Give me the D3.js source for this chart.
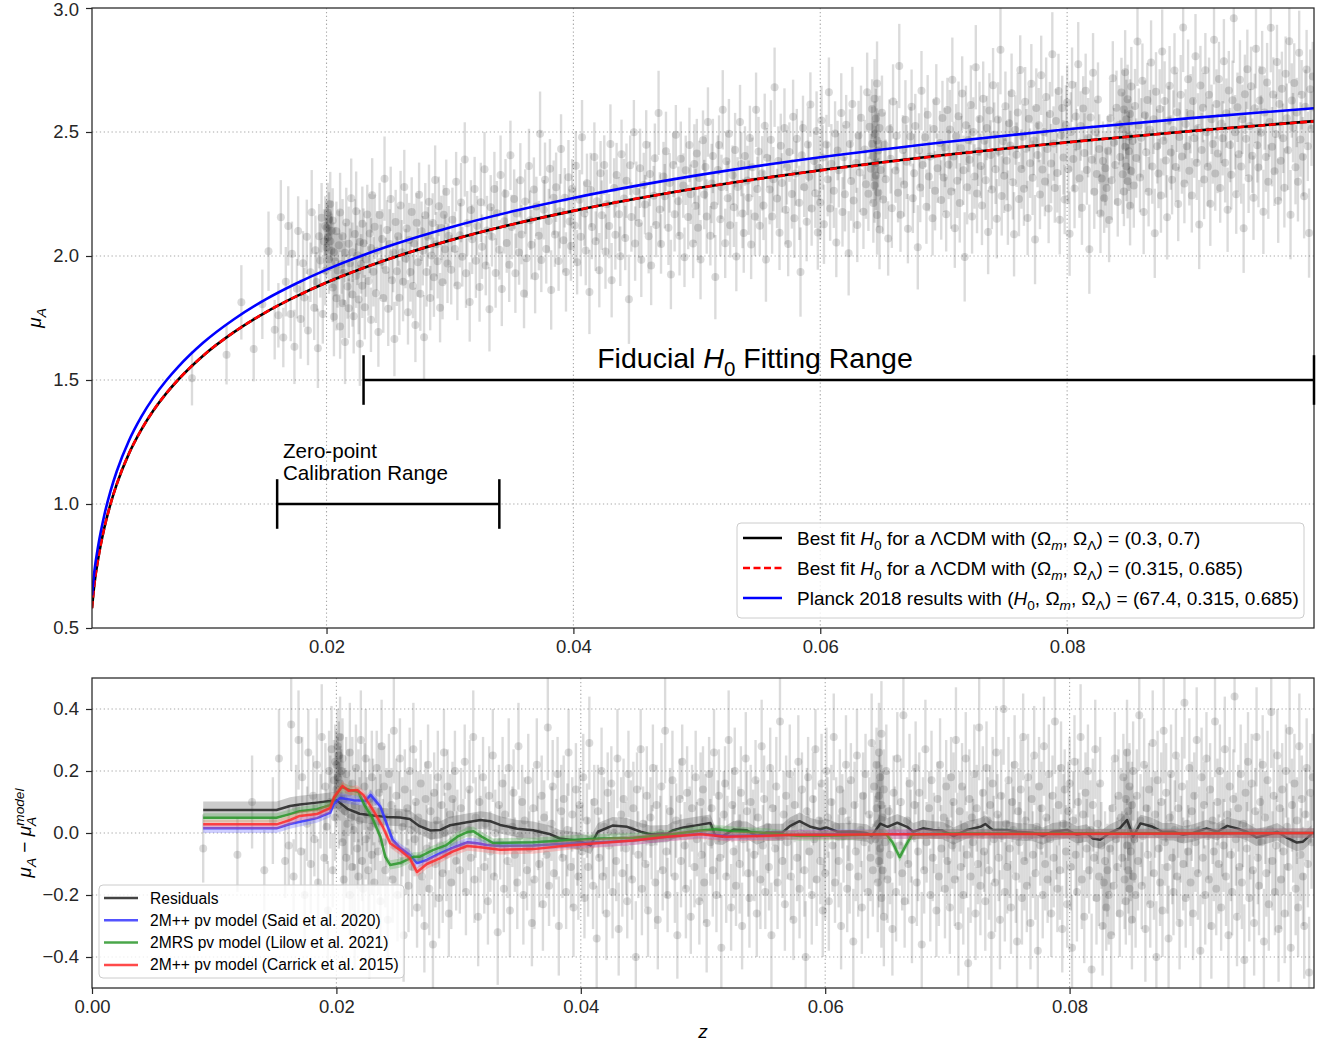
<!DOCTYPE html>
<html><head><meta charset="utf-8">
<script src="https://cdn.jsdelivr.net/npm/d3@7"></script>
<style>body{margin:0;background:#fff}svg text{font-family:"Liberation Sans",Arial,Helvetica,sans-serif}</style>
</head><body><svg id="c" width="1326" height="1044"></svg>
<script>
// ---------------- DATA ----------------
// Model curves (top panel): redshift knots and mu_A values
const curveZ = [0.001,0.0012,0.0015,0.002,0.0025,0.003,0.004,0.005,0.006,0.007,0.008,0.01,0.0125,0.015,0.0175,0.02,0.025,0.03,0.035,0.04,0.05,0.06,0.07,0.08,0.09,0.1];
const muBest300 = [0.580,0.680,0.779,0.904,1.000,1.079,1.204,1.300,1.379,1.445,1.502,1.598,1.693,1.771,1.836,1.893,1.987,2.063,2.127,2.182,2.273,2.346,2.407,2.459,2.504,2.544];
const muBest315 = [0.580,0.680,0.779,0.904,1.000,1.079,1.204,1.300,1.379,1.445,1.502,1.598,1.693,1.771,1.836,1.893,1.987,2.063,2.127,2.182,2.273,2.345,2.406,2.458,2.503,2.543];
const muPlanck = [0.632,0.732,0.831,0.956,1.052,1.131,1.256,1.352,1.431,1.497,1.554,1.650,1.745,1.823,1.888,1.945,2.039,2.115,2.179,2.234,2.325,2.398,2.459,2.511,2.556,2.596];

// Galaxies: [z x 1e4, residual mu_A - mu_model x 100, error x 100]
const galaxies = [
[91,-5,11],[119,-7,12],[131,10,15],[141,-12,13],[148,4,14],[153,24,16],[158,-9,12],
[161,-4,13],[163,35,15],[165,-14,12],[167,8,14],[169,30,16],[171,-6,11],[172,18,13],[174,-20,15],[176,3,12],[177,26,14],[179,-10,16],[181,12,13],[182,-2,12],[184,22,15],[185,-16,14],[187,7,12],[188,31,17],[190,-8,13],[191,15,14],[192,2,12],[193,-25,16],[194,20,13],[195,10,15],[196,27,14],[197,-12,12],[198,17,13],[199,5,14],[199,23,12],
[200,14,12],[200,22,11],[201,18,13],[201,28,12],[202,9,14],[202,25,11],[203,16,12],[203,31,13],[204,12,15],[204,20,12],[205,-3,14],[205,24,13],[206,11,12],[206,-15,16],[207,7,14],[208,19,12],[208,-8,13],[209,3,15],[210,13,14],[211,-20,13],[211,26,16],[212,5,12],[213,-11,14],[213,16,15],[214,1,13],[215,-27,17],[215,9,12],[216,21,14],[217,-5,13],[218,12,15],[218,-14,12],[219,4,14],[220,30,16],[221,-9,13],[221,8,12],[222,-18,15],[223,15,14],[224,-2,13],[224,24,16],[225,6,12],[226,-12,14],[227,11,13],[227,-30,17],[228,2,12],[229,18,15],[229,-7,13],
[230,10,14],[231,-16,13],[232,3,15],[233,21,12],[234,-6,14],[235,13,16],[236,-22,13],[236,7,12],[237,28,15],[238,-3,14],[239,15,13],[240,-12,12],[241,5,16],[242,-28,14],[243,19,13],[244,0,15],[245,9,12],[246,-15,14],[247,33,17],[248,-4,13],[249,12,12],[250,-20,15],[251,6,14],[252,24,13],[253,-9,12],[254,2,16],[255,-33,15],[256,14,13],[257,-6,14],[258,8,12],[259,-17,15],[260,20,14],[261,1,13],[262,-11,16],[263,27,15],[264,-2,12],[265,10,14],[266,-24,13],[267,5,15],[268,-8,12],[269,16,14],[270,-14,13],[271,3,16],[272,-30,15],[273,11,12],[274,-5,14],[275,22,13],[276,-18,15],[277,7,12],[278,-1,14],[279,-36,17],[280,13,13],[281,-10,14],[282,4,12],[283,18,15],[284,-21,13],[285,-4,14],[286,9,12],[287,-13,16],[288,26,14],[289,0,13],[290,-7,15],[291,15,12],[292,-26,14],[293,6,13],[294,-16,15],[295,11,12],[296,-3,14],[297,20,13],[298,-9,16],[299,2,12],
[301,-12,14],[302,8,13],[304,-4,15],[305,23,12],[306,-19,14],[308,1,13],[309,14,16],[310,-8,12],[312,31,15],[313,-15,14],[314,5,13],[316,-27,16],[317,10,12],[318,-2,14],[320,18,13],[321,-11,15],[322,3,12],[324,-22,14],[325,12,16],[326,-6,13],[328,25,15],[329,-14,12],[330,0,14],[332,-32,17],[333,9,13],[334,-3,12],[336,16,15],[337,-18,14],[338,6,13],[340,-9,12],[341,21,16],[342,-25,15],[344,2,13],[345,13,14],[346,-7,12],[348,-16,15],[349,28,14],[350,-1,13],[352,10,12],[353,-20,16],[354,4,14],[356,-12,13],[357,17,15],[358,-5,12],[360,-29,14],[361,8,13],[362,-15,16],[364,22,15],[365,0,12],[366,-10,14],[368,12,13],[369,-23,15],[370,5,12],[372,-7,14],[373,34,17],[374,-17,13],[376,3,12],[377,15,15],[378,-13,14],[380,-2,13],[381,19,12],[382,-30,16],[384,7,15],[385,-8,13],[386,11,14],[388,-19,12],[389,1,15],[390,26,14],[392,-11,13],[393,6,12],[394,-24,16],[396,14,15],[397,-4,13],[398,-14,14],[399,9,12],
[401,-6,15],[402,18,14],[403,-21,13],[405,4,12],[406,-11,16],[407,29,15],[409,-2,13],[410,-17,14],[411,10,12],[413,-34,17],[414,7,15],[415,-8,13],[417,20,14],[418,-14,12],[419,2,16],[421,-26,15],[422,13,13],[423,-4,14],[425,16,12],[426,-19,15],[427,0,14],[429,-9,13],[430,24,16],[431,-31,15],[433,6,12],[434,-13,14],[435,11,13],[437,-5,15],[438,-22,12],[439,19,14],[441,1,16],[442,-15,13],[443,8,15],[445,-40,18],[446,14,12],[447,-7,14],[449,27,13],[450,-18,15],[451,3,12],[453,-10,14],[454,12,16],[455,-25,15],[457,5,13],[458,-3,12],[459,21,14],[461,-16,15],[462,9,13],[463,-28,16],[465,0,12],[466,15,14],[467,-12,13],[469,33,17],[470,-6,15],[471,-20,12],[473,7,14],[474,-1,13],[475,17,16],[477,-14,15],[478,4,12],[479,-33,14],[481,11,13],[482,-9,15],[483,23,12],[485,-4,14],[486,-18,16],[487,13,15],[489,2,13],[490,-27,12],[491,8,14],[493,-11,13],[494,18,15],[495,-2,12],[497,-22,14],[498,10,16],[499,-7,15],
[500,14,14],[501,-16,13],[502,4,15],[503,-29,16],[505,19,12],[506,-3,14],[507,8,13],[508,-12,15],[509,26,14],[511,-20,12],[512,1,16],[513,12,15],[514,-8,13],[515,-37,17],[517,6,14],[518,16,12],[519,-14,15],[520,-1,13],[521,30,16],[523,-24,14],[524,9,12],[525,-6,15],[526,20,14],[527,-17,13],[529,3,12],[530,-10,16],[531,13,15],[532,-30,14],[533,-2,12],[535,24,15],[536,7,13],[537,-13,14],[538,-21,16],[539,10,12],[541,0,14],[542,-7,15],[543,17,13],[544,-26,14],[545,5,12],[547,-15,16],[548,28,15],[549,-4,13],[550,11,14],[551,-19,12],[553,2,15],[554,-11,14],[555,21,13],[556,-33,17],[557,8,12],[559,-5,14],[560,15,16],[561,-16,15],[562,-1,13],[563,36,16],[565,-9,12],[566,6,14],[567,-23,15],[568,12,13],[569,-3,12],[571,19,16],[572,-14,14],[573,3,15],[574,-28,13],[575,9,12],[577,-8,14],[578,23,15],[579,-18,16],[580,0,13],[581,14,12],[583,-12,15],[584,-40,18],[585,7,14],[586,18,13],[587,-6,12],[589,-20,16],[590,11,15],[591,-2,14],[592,27,13],[593,-15,15],[595,4,12],[596,-9,14],[597,16,16],[598,-25,15],[599,1,13],
[600,-13,15],[601,20,14],[602,5,13],[603,-22,16],[605,10,12],[606,-4,15],[607,31,14],[608,-16,13],[609,2,16],[611,-9,15],[612,14,13],[613,-30,14],[614,7,12],[615,-1,15],[617,22,16],[618,-18,14],[619,4,13],[620,-11,15],[621,17,12],[623,-35,17],[624,9,14],[625,-6,16],[626,25,15],[627,-14,13],[629,1,12],[630,-24,15],[631,12,14],[632,-3,16],[633,19,13],[635,-19,15],[636,6,12],[637,-8,14],[638,29,16],[639,-12,15],[640,15,13],[641,-2,14],[642,8,15],[642,22,12],[643,-16,16],[643,3,14],[644,12,13],[644,-9,15],[644,26,16],[645,-5,14],[645,18,12],[645,0,15],[646,-21,16],[646,9,13],[646,32,17],[647,-12,14],[647,5,15],[648,14,13],[648,-27,16],[649,-3,12],[650,20,15],[651,-15,14],[652,7,13],[653,-7,16],[655,-31,15],[656,13,12],[657,1,14],[658,-19,16],[659,24,15],[661,-4,13],[662,10,14],[663,-13,12],[664,38,17],[665,-22,15],[667,4,14],[668,-10,13],[669,16,16],[670,-1,15],[671,-28,14],[673,9,12],[674,21,15],[675,-16,14],[676,-6,16],[677,13,13],[679,-36,17],[680,3,15],[681,-12,14],[682,27,16],[683,-3,13],[685,8,12],[686,-20,15],[687,17,16],[688,-8,14],[689,0,13],[691,-25,15],[692,11,12],[693,-14,16],[694,22,15],[695,-5,14],[697,5,13],[698,-18,16],[699,15,15],
[700,-9,14],[701,3,16],[702,-24,15],[703,18,13],[704,-4,14],[705,10,16],[706,-15,15],[707,30,17],[708,-1,14],[709,-30,16],[710,7,13],[711,-11,15],[712,15,14],[713,-20,16],[714,2,13],[715,24,15],[716,-7,14],[717,-42,18],[718,11,16],[719,-14,15],[720,5,13],[721,-3,14],[722,19,16],[723,-26,15],[724,8,14],[725,-10,13],[726,34,17],[727,-17,16],[728,0,14],[729,13,15],[730,-6,13],[731,-22,16],[732,21,15],[733,4,14],[734,-12,16],[735,9,13],[736,-33,17],[737,16,15],[738,-2,14],[739,-16,16],[740,26,15],[741,6,13],[742,-8,14],[743,-28,16],[744,12,15],[745,-1,14],[746,40,18],[747,-19,16],[748,3,13],[749,-11,15],[750,17,14],[751,-5,16],[752,-24,15],[753,10,13],[754,1,14],[755,22,16],[756,-14,15],[757,-35,17],[758,7,14],[759,-3,13],[760,14,16],[761,-21,15],[762,31,14],[763,-9,16],[764,4,13],[765,-17,15],[766,18,14],[767,-1,16],[768,-29,15],[769,11,13],[770,-7,14],[771,25,16],[772,-13,15],[773,2,14],[774,-38,18],[775,15,16],[776,-4,13],[777,8,15],[778,-20,14],[779,28,16],[780,-10,15],[781,5,13],[782,-15,14],[783,19,16],[784,-2,15],[785,-26,14],[786,12,13],[787,-8,16],[788,36,17],[789,0,15],[790,-18,14],[791,9,13],[792,-12,16],[793,21,15],[794,-31,14],[795,3,16],[796,14,13],[797,-6,15],[798,-23,14],[799,7,16],
[800,16,15],[801,-11,14],[802,-37,17],[803,4,16],[804,23,15],[805,-7,13],[806,-19,16],[807,10,14],[808,-2,15],[809,31,17],[810,-15,16],[811,6,14],[812,-27,15],[813,13,13],[814,-5,16],[815,20,15],[816,-12,14],[817,1,16],[818,-44,18],[819,9,15],[820,-8,14],[821,27,16],[822,-21,15],[823,3,13],[824,-14,16],[825,16,15],[826,-4,14],[827,-30,16],[828,-16,15],[829,-9,16],[830,-24,14],[831,-12,15],[832,-20,16],[833,-5,14],[834,-33,17],[835,8,15],[836,-17,16],[837,24,15],[838,-2,14],[839,-11,16],[840,12,15],[841,-26,14],[842,5,16],[843,-8,15],[844,18,14],[845,-15,16],[845,3,15],[846,-22,14],[846,11,16],[847,-4,15],[847,26,17],[848,-12,14],[848,7,16],[849,-18,15],[849,15,14],[850,-6,16],[850,0,15],[851,-28,16],[851,9,14],[852,-14,15],[852,20,16],[853,-2,14],[854,-20,17],[855,12,15],[856,-9,16],[857,38,18],[858,4,15],[859,-17,14],[860,-1,16],[861,22,15],[862,-31,17],[863,8,14],[864,-7,16],[865,14,15],[866,-23,14],[867,2,16],[868,29,17],[869,-13,15],[870,6,14],[871,-40,18],[872,17,16],[873,-5,15],[874,-16,14],[875,10,16],[876,-25,15],[877,33,17],[878,-3,14],[879,13,16],[880,-11,15],[881,-34,17],[882,5,14],[883,19,16],[884,-8,15],[885,-19,14],[886,1,16],[887,25,15],[888,-14,14],[889,8,16],[890,-29,15],[891,-2,14],[892,15,16],[893,-10,15],[894,42,18],[895,-21,16],[896,3,14],[897,-6,15],[898,21,16],[899,-16,14],
[900,7,16],[901,-26,15],[902,12,14],[903,-3,16],[904,30,17],[905,-13,15],[906,1,14],[907,-38,18],[908,18,16],[909,-8,15],[910,9,14],[911,-20,16],[912,24,15],[913,-1,14],[914,-15,16],[915,14,15],[916,-30,17],[917,4,14],[918,-6,16],[919,36,18],[920,-18,15],[921,10,14],[922,-10,16],[923,20,15],[924,-24,14],[925,2,16],[926,-4,15],[927,27,17],[928,-14,16],[929,6,14],[930,-33,17],[931,15,16],[932,-7,15],[933,-19,14],[934,11,16],[935,44,18],[936,-2,15],[937,-27,16],[938,8,14],[939,-11,15],[940,19,16],[941,-16,15],[942,3,14],[943,-41,18],[944,13,16],[945,-5,15],[946,23,16],[947,-21,14],[948,0,15],[949,16,16],[950,-12,15],[951,-29,17],[952,7,14],[953,31,16],[954,-8,15],[955,-17,16],[956,10,14],[957,-3,15],[958,22,16],[959,-35,17],[960,5,15],[961,-13,14],[962,17,16],[963,-23,15],[964,1,14],[965,39,18],[966,-9,16],[967,12,15],[968,-19,14],[969,-4,16],[970,25,15],[971,-31,17],[972,8,14],[973,-15,16],[974,14,15],[975,-6,14],[976,-26,16],[977,20,15],[978,2,14],[979,-11,16],[980,33,17],[981,-37,18],[982,9,15],[983,-2,14],[984,16,16],[985,-18,15],[986,4,14],[987,-24,16],[988,28,17],[989,-7,15],[990,11,14],[991,-14,16],[992,-30,17],[993,6,15],[994,21,16],[995,-10,14],[996,-45,18],[997,13,16],[998,-3,15],[999,18,14]
];

// Running residual line (black) and pv-model predictions (bottom panel)
const residZ = [0.0091,0.0151,0.0162,0.0170,0.0184,0.0195,0.0200,0.0209,0.0219,0.0233,0.0241,0.0252,0.0260,0.0268,0.0277,0.0285,0.0293,0.0307,0.0318,0.0326,0.0334,0.0348,0.0361,0.0375,0.0383,0.0399,0.0408,0.0414,0.0426,0.0438,0.0449,0.0457,0.0471,0.0475,0.0484,0.0498,0.0506,0.0510,0.0516,0.0525,0.0536,0.0544,0.0552,0.0565,0.0571,0.0579,0.0588,0.0596,0.0601,0.0610,0.0623,0.0634,0.0638,0.0645,0.0651,0.0659,0.0667,0.0672,0.0680,0.0688,0.0696,0.0705,0.0716,0.0727,0.0731,0.0737,0.0749,0.0757,0.0770,0.0778,0.0786,0.0798,0.0806,0.0814,0.0819,0.0825,0.0833,0.0841,0.0847,0.0852,0.0858,0.0863,0.0868,0.0876,0.0885,0.0893,0.0901,0.0912,0.0921,0.0929,0.0937,0.0945,0.0953,0.0962,0.0970,0.0978,0.0986,0.0991,0.0998];
const residV = [0.074,0.074,0.087,0.092,0.098,0.103,0.106,0.078,0.062,0.055,0.052,0.050,0.045,0.022,0.008,0.010,0.025,0.035,0.042,0.038,0.026,0.014,0.009,-0.004,-0.018,-0.026,-0.040,0.004,0.024,0.020,0.004,-0.004,-0.002,0.008,0.018,0.027,0.032,-0.008,-0.011,0.011,0.009,-0.010,0.002,0.002,0.022,0.038,0.020,0.012,0.018,0.004,0.005,0.000,-0.010,0.030,0.020,0.033,0.020,0.004,0.015,0.010,0.008,-0.010,0.010,0.020,0.029,0.010,0.010,0.004,0.001,-0.010,0.004,0.010,-0.006,0.000,-0.018,-0.022,0.000,0.015,0.042,-0.012,0.031,0.026,0.020,0.004,0.004,-0.006,0.000,0.015,0.004,0.023,0.015,0.004,-0.014,-0.006,0.004,-0.016,-0.031,-0.028,-0.003];
const saidZ = [0.0091,0.0151,0.0162,0.0184,0.0195,0.0198,0.0203,0.0214,0.0224,0.0228,0.0236,0.0241,0.0246,0.0252,0.0260,0.0266,0.0274,0.0285,0.0295,0.0307,0.0315,0.0323,0.0334,0.0361,0.0389,0.0416,0.0443,0.0471,0.0498,0.0519,0.0550,0.0600,0.0650,0.0700,0.0800,0.0900,0.1000];
const saidV = [0.015,0.015,0.029,0.048,0.066,0.095,0.113,0.106,0.104,0.123,0.085,0.031,-0.022,-0.048,-0.071,-0.097,-0.087,-0.065,-0.048,-0.030,-0.033,-0.039,-0.042,-0.040,-0.034,-0.030,-0.024,-0.012,-0.002,-0.010,-0.007,-0.004,-0.004,-0.003,-0.002,-0.001,0.000];
const lilowZ = [0.0091,0.0151,0.0162,0.0170,0.0184,0.0195,0.0198,0.0204,0.0211,0.0218,0.0223,0.0229,0.0236,0.0240,0.0244,0.0252,0.0263,0.0268,0.0279,0.0290,0.0299,0.0307,0.0312,0.0319,0.0328,0.0361,0.0389,0.0416,0.0443,0.0471,0.0498,0.0510,0.0525,0.0552,0.0579,0.0610,0.0645,0.0650,0.0655,0.0661,0.0666,0.0671,0.0700,0.0800,0.1000];
const lilowV = [0.049,0.049,0.061,0.070,0.077,0.090,0.110,0.148,0.139,0.132,0.090,0.052,-0.012,-0.077,-0.103,-0.097,-0.077,-0.077,-0.055,-0.039,-0.012,0.003,0.006,-0.012,-0.032,-0.030,-0.023,-0.018,-0.015,-0.006,0.008,0.012,0.006,0.000,-0.010,-0.008,-0.004,-0.004,-0.030,-0.078,-0.040,-0.006,-0.002,-0.001,0.000];
const carrickZ = [0.0091,0.0151,0.0162,0.0170,0.0184,0.0195,0.0198,0.0205,0.0210,0.0217,0.0222,0.0230,0.0238,0.0244,0.0252,0.0260,0.0266,0.0274,0.0285,0.0295,0.0307,0.0318,0.0334,0.0361,0.0389,0.0416,0.0443,0.0471,0.0498,0.0519,0.0548,0.0574,0.0600,0.0650,0.0700,0.0800,0.0900,0.1000];
const carrickV = [0.028,0.028,0.042,0.055,0.061,0.081,0.115,0.152,0.136,0.139,0.123,0.074,0.020,-0.033,-0.055,-0.081,-0.126,-0.100,-0.081,-0.060,-0.042,-0.046,-0.054,-0.052,-0.040,-0.032,-0.024,-0.012,-0.004,-0.012,-0.010,-0.006,-0.006,-0.004,-0.004,-0.003,-0.002,0.000];
const bandHalf = {resid:0.028, said:0.015, lilow:0.015, carrick:0.015};

// Ranges annotated in the top panel
const fiducialRange = {z0:0.023, z1:0.1, mu:1.5, cap:0.1};
const zeroPointRange = {z0:0.016, z1:0.034, mu:1.0, cap:0.1};

// Ticks
const topXTicks = [0.02,0.04,0.06,0.08];
const topYTicks = [0.5,1.0,1.5,2.0,2.5,3.0];
const botXTicks = [0.00,0.02,0.04,0.06,0.08];
const botYTicks = [-0.4,-0.2,0.0,0.2,0.4];

// ---------------- DRAW ----------------
const svg = d3.select("#c");
const TP = {l:92, r:1314, t:8, b:628};
const BP = {l:92, r:1314, t:678, b:988};
const xT = d3.scaleLinear().domain([0.001,0.1]).range([TP.l,TP.r]);
const yT = d3.scaleLinear().domain([0.5,3.0]).range([TP.b,TP.t]);
const xB = d3.scaleLinear().domain([0,0.1]).range([BP.l,BP.r]);
const yB = d3.scaleLinear().domain([-0.5,0.5]).range([BP.b,BP.t]);
const muModel = d3.scaleLog().domain(curveZ).range(muBest300);

const pts = galaxies.map(([z,r,e])=>({z:z/1e4, r:r/100, e:e/100}));
const AX = "#262626";
const FS = {tick:18.5, legT:19, legB:15.6, big:28.5, note:20.6, label:19};

const defs = svg.append("defs");
defs.append("clipPath").attr("id","clipT").append("rect").attr("x",TP.l).attr("y",TP.t).attr("width",TP.r-TP.l).attr("height",TP.b-TP.t);
defs.append("clipPath").attr("id","clipB").append("rect").attr("x",BP.l).attr("y",BP.t).attr("width",BP.r-BP.l).attr("height",BP.b-BP.t);

function grid(P, xs, ys, xTicks, yTicks){
  const g = svg.append("g");
  g.selectAll("line.gx").data(xTicks.filter(v=>xs(v)>P.l+1&&xs(v)<P.r-1)).join("line")
    .attr("x1",d=>xs(d)).attr("x2",d=>xs(d)).attr("y1",P.t).attr("y2",P.b);
  g.selectAll("line.gy").data(yTicks.filter(v=>ys(v)>P.t+1&&ys(v)<P.b-1)).join("line")
    .attr("y1",d=>ys(d)).attr("y2",d=>ys(d)).attr("x1",P.l).attr("x2",P.r);
  g.selectAll("line").attr("stroke","#a8a8a8").attr("stroke-width",1.1).attr("stroke-dasharray","1.3,2.6");
}
grid(TP,xT,yT,topXTicks,topYTicks);
grid(BP,xB,yB,botXTicks,botYTicks);

function scatter(clip, xs, yfn){
  const g = svg.append("g").attr("clip-path",`url(#${clip})`);
  g.selectAll("line").data(pts).join("line")
    .attr("x1",d=>xs(d.z)).attr("x2",d=>xs(d.z))
    .attr("y1",d=>yfn(d,-1)).attr("y2",d=>yfn(d,1))
    .attr("stroke","#000").attr("stroke-opacity",0.14).attr("stroke-width",2.4);
  g.selectAll("circle").data(pts).join("circle")
    .attr("cx",d=>xs(d.z)).attr("cy",d=>yfn(d,0)).attr("r",4)
    .attr("fill","#000").attr("fill-opacity",0.14);
}
scatter("clipT", xT, (d,s)=>yT(muModel(d.z)+d.r+s*d.e));
scatter("clipB", xB, (d,s)=>yB(d.r+s*d.e));

// top curves
const gT = svg.append("g").attr("clip-path","url(#clipT)");
const lineT = arr => d3.line().x((d,i)=>xT(curveZ[i])).y(d=>yT(d)).curve(d3.curveMonotoneX)(arr);
gT.append("path").attr("d",lineT(muBest300)).attr("fill","none").attr("stroke","#000").attr("stroke-width",2.6);
gT.append("path").attr("d",lineT(muBest315)).attr("fill","none").attr("stroke","#ff0000").attr("stroke-width",2.6).attr("stroke-dasharray","7,3.5");
gT.append("path").attr("d",lineT(muPlanck)).attr("fill","none").attr("stroke","#0000ff").attr("stroke-width",2.6);

// bottom model lines
const gB = svg.append("g").attr("clip-path","url(#clipB)");
const series = [
  {z:residZ, v:residV, w:bandHalf.resid, line:"#222222", band:"#606060", bo:0.32, lo:0.85},
  {z:saidZ, v:saidV, w:bandHalf.said, line:"#3535ff", band:"#6060ff", bo:0.3, lo:0.85},
  {z:lilowZ, v:lilowV, w:bandHalf.lilow, line:"#2a962a", band:"#50b050", bo:0.3, lo:0.85},
  {z:carrickZ, v:carrickV, w:bandHalf.carrick, line:"#ff2a2a", band:"#ff6060", bo:0.3, lo:0.85}
];
series.forEach(s=>{
  const area = d3.area().x((d,i)=>xB(s.z[i])).y0(d=>yB(d-s.w)).y1(d=>yB(d+s.w));
  gB.append("path").attr("d",area(s.v)).attr("fill",s.band).attr("fill-opacity",s.bo);
  const ln = d3.line().x((d,i)=>xB(s.z[i])).y(d=>yB(d));
  gB.append("path").attr("d",ln(s.v)).attr("fill","none").attr("stroke",s.line).attr("stroke-opacity",s.lo).attr("stroke-width",2.5).attr("stroke-linejoin","round");
});

// axes
function axes(P, xs, ys, xTicks, yTicks, xfmt, yfmt){
  const ax = svg.append("g").attr("transform",`translate(0,${P.b})`)
    .call(d3.axisBottom(xs).tickValues(xTicks).tickFormat(xfmt).tickSize(6).tickPadding(6));
  const ay = svg.append("g").attr("transform",`translate(${P.l},0)`)
    .call(d3.axisLeft(ys).tickValues(yTicks).tickFormat(yfmt).tickSize(6).tickPadding(7));
  [ax,ay].forEach(a=>{
    a.select(".domain").remove();
    a.selectAll(".tick line").attr("stroke",AX).attr("stroke-width",1.2);
    a.selectAll(".tick text").attr("fill",AX).style("font-size",FS.tick+"px").style("font-family",'"Liberation Sans",Arial,sans-serif');
  });
  // keep the topmost label fully inside the picture
  ay.selectAll(".tick text").filter(d=>ys(d)<P.t+2).attr("dy","0.42em");
  svg.append("rect").attr("x",P.l).attr("y",P.t).attr("width",P.r-P.l).attr("height",P.b-P.t)
    .attr("fill","none").attr("stroke",AX).attr("stroke-width",1.25);
}
axes(TP,xT,yT,topXTicks,topYTicks,d3.format(".2f"),d3.format(".1f"));
axes(BP,xB,yB,botXTicks,botYTicks,d3.format(".2f"),d3.format(".1f"));

// rich text helper
function rich(sel, parts, base){
  parts.forEach(p=>{
    const t = sel.append("tspan").text(p.t);
    if(p.i) t.style("font-style","italic");
    if(p.sub){ t.attr("dy",base*0.28).style("font-size",(base*0.72)+"px"); }
    if(p.back){ t.attr("dy",-base*0.28); }
    if(p.sup){ t.attr("dy",p.sup).style("font-size",(base*0.72)+"px"); }
    if(p.dx) t.attr("dx",p.dx);
  });
}

// range annotations
function rangeBar(R){
  const g = svg.append("g").attr("stroke","#000").attr("stroke-width",2.5);
  g.append("line").attr("x1",xT(R.z0)).attr("x2",xT(R.z1)).attr("y1",yT(R.mu)).attr("y2",yT(R.mu));
  [R.z0,R.z1].forEach(z=>g.append("line").attr("x1",xT(z)).attr("x2",xT(z)).attr("y1",yT(R.mu-R.cap)).attr("y2",yT(R.mu+R.cap)));
}
rangeBar(fiducialRange); rangeBar(zeroPointRange);
const ft = svg.append("text").attr("x",755).attr("y",368).attr("text-anchor","middle").style("font-size",FS.big+"px").attr("fill","#000");
rich(ft,[{t:"Fiducial "},{t:"H",i:true},{t:"0",sub:true},{t:" Fitting Range",back:true}],FS.big);
svg.append("text").attr("x",283).attr("y",458).style("font-size",FS.note+"px").text("Zero-point");
svg.append("text").attr("x",283).attr("y",480).style("font-size",FS.note+"px").text("Calibration Range");

// top legend
const lgT = svg.append("g");
lgT.append("rect").attr("x",737).attr("y",523).attr("width",567).attr("height",95).attr("rx",4)
  .attr("fill","#fff").attr("fill-opacity",0.8).attr("stroke","#cccccc").attr("stroke-width",1);
const topLeg = [
  {c:"#000", dash:null, parts:[{t:"Best fit "},{t:"H",i:true},{t:"0",sub:true},{t:" for a ΛCDM with (Ω",back:true},{t:"m",i:true,sub:true},{t:", Ω",back:true},{t:"Λ",sub:true},{t:") = (0.3, 0.7)",back:true}]},
  {c:"#ff0000", dash:"7,3.5", parts:[{t:"Best fit "},{t:"H",i:true},{t:"0",sub:true},{t:" for a ΛCDM with (Ω",back:true},{t:"m",i:true,sub:true},{t:", Ω",back:true},{t:"Λ",sub:true},{t:") = (0.315, 0.685)",back:true}]},
  {c:"#0000ff", dash:null, parts:[{t:"Planck 2018 results with ("},{t:"H",i:true},{t:"0",sub:true},{t:", Ω",back:true},{t:"m",i:true,sub:true},{t:", Ω",back:true},{t:"Λ",sub:true},{t:") = (67.4, 0.315, 0.685)",back:true}]}
];
topLeg.forEach((e,i)=>{
  const y = 538 + i*30;
  const l = lgT.append("line").attr("x1",743).attr("x2",782).attr("y1",y).attr("y2",y).attr("stroke",e.c).attr("stroke-width",2.6);
  if(e.dash) l.attr("stroke-dasharray",e.dash);
  const t = lgT.append("text").attr("x",797).attr("y",y+6.5).style("font-size",FS.legT+"px").attr("fill","#000");
  rich(t,e.parts,FS.legT);
});

// bottom legend
const lgB = svg.append("g");
lgB.append("rect").attr("x",99).attr("y",885).attr("width",305).attr("height",93).attr("rx",4)
  .attr("fill","#fff").attr("fill-opacity",0.8).attr("stroke","#cccccc").attr("stroke-width",1);
const botLeg = [
  {c:"#222222", t:"Residuals"},
  {c:"#3535ff", t:"2M++ pv model (Said et al. 2020)"},
  {c:"#2a962a", t:"2MRS pv model (Lilow et al. 2021)"},
  {c:"#ff2a2a", t:"2M++ pv model (Carrick et al. 2015)"}
];
botLeg.forEach((e,i)=>{
  const y = 898 + i*22.3;
  lgB.append("line").attr("x1",104).attr("x2",138).attr("y1",y).attr("y2",y).attr("stroke",e.c).attr("stroke-opacity",0.85).attr("stroke-width",2.5);
  lgB.append("text").attr("x",150).attr("y",y+5.5).style("font-size",FS.legB+"px").attr("fill","#000").text(e.t);
});

// axis labels
const ylT = svg.append("text").attr("transform","translate(41,318) rotate(-90)").attr("text-anchor","middle").style("font-size",FS.label+"px").attr("fill","#000");
rich(ylT,[{t:"μ",i:true},{t:"A",i:true,sub:true}],FS.label);
const ylB = svg.append("text").attr("transform","translate(31,833) rotate(-90)").attr("text-anchor","middle").style("font-size",FS.label+"px").attr("fill","#000");
rich(ylB,[{t:"μ",i:true},{t:"A",i:true,sub:true},{t:" − ",back:true},{t:"μ",i:true},{t:"A",i:true,sub:true},{t:"model",i:true,sup:-12,dx:-9}],FS.label);
svg.append("text").attr("x",703).attr("y",1038).attr("text-anchor","middle").style("font-size",FS.label+"px").style("font-style","italic").text("z");
</script></body></html>
